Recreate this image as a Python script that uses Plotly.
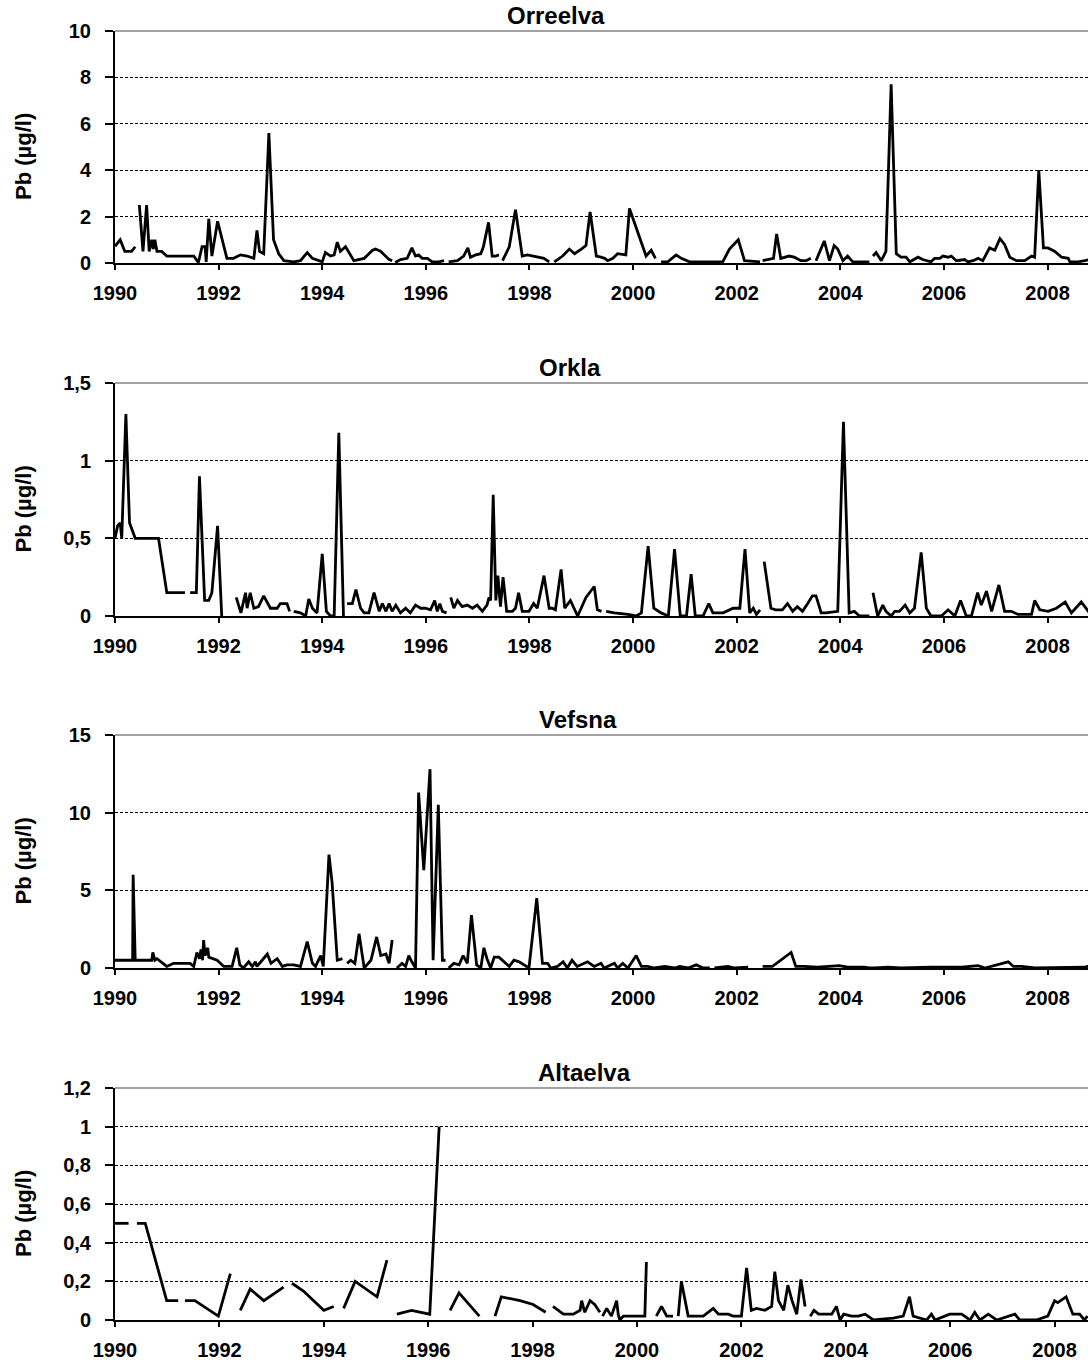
import plotly.graph_objects as go
from plotly.subplots import make_subplots

# Pb (ug/l) in four Norwegian rivers, 1990-2008 (None = gap in the series)
rivers = ["Orreelva", "Orkla", "Vefsna", "Altaelva"]

orreelva_year = [
    1990.00, 1990.10, 1990.19, 1990.32, 1990.39, None,
    1990.47, 1990.54, 1990.61, 1990.66, 1990.71, 1990.74, 1990.77, 1990.81, 1990.90, 1991.00,
    1991.26, 1991.52, 1991.61, 1991.68, 1991.74, 1991.76, 1991.81, 1991.87, 1991.98, 1992.16,
    1992.29, 1992.42, 1992.55, 1992.68, 1992.71, 1992.74, 1992.79, 1992.87, 1992.97, 1993.06,
    1993.16, 1993.26, 1993.45, 1993.58, 1993.71, 1993.81, 1994.00, 1994.06, 1994.16, 1994.23,
    1994.29, 1994.35, 1994.45, 1994.61, 1994.81, 1994.97, 1995.03, 1995.13, 1995.29, 1995.35, None,
    1995.41, 1995.51, 1995.64, 1995.73, 1995.80, 1995.86, 1995.93, 1996.03, 1996.12, 1996.25, 1996.35, None,
    1996.44, 1996.61, 1996.73, 1996.81, 1996.86, 1996.96, 1997.06, 1997.11, 1997.21, 1997.28, 1997.35, 1997.41, None,
    1997.48, 1997.61, 1997.73, 1997.86, 1997.96, 1998.09, 1998.22, 1998.28, 1998.38, None,
    1998.48, 1998.64, 1998.77, 1998.87, 1999.00, 1999.09, 1999.17, 1999.29, 1999.38, 1999.45,
    1999.51, 1999.61, 1999.70, 1999.86, 1999.93, 2000.09, 2000.25, 2000.35, 2000.43, None,
    2000.54, 2000.67, 2000.83, 2000.93, 2001.09, 2001.32, 2001.57, 2001.73, 2001.86, 2002.03, 2002.15, 2002.35, 2002.45, None,
    2002.50, 2002.66, 2002.71, 2002.77, 2002.85, 2003.01, 2003.11, 2003.24, 2003.34, 2003.43, None,
    2003.53, 2003.69, 2003.79, 2003.88, 2003.95, 2004.05, 2004.14, 2004.24, 2004.40, 2004.56, None,
    2004.63, 2004.69, 2004.79, 2004.88, 2004.98, 2005.08, 2005.17, 2005.27, 2005.34, 2005.50,
    2005.59, 2005.75, 2005.82, 2005.92, 2005.98, 2006.08, 2006.14, 2006.24, 2006.40, 2006.46,
    2006.56, 2006.66, 2006.75, 2006.88, 2006.98, 2007.08, 2007.17, 2007.27, 2007.40, 2007.56,
    2007.69, 2007.75, 2007.83, 2007.92, 2008.01, 2008.14, 2008.27, 2008.40, 2008.43, 2008.59, 2008.72, 2008.81,
]
orreelva_pb = [
    0.72, 1.0, 0.5, 0.5, 0.7, None,
    2.5, 0.5, 2.5, 0.5, 1.0, 0.6, 1.0, 0.5, 0.5, 0.3,
    0.3, 0.3, 0.02, 0.7, 0.7, 0.05, 1.9, 0.3, 1.8, 0.2,
    0.2, 0.35, 0.3, 0.2, 0.8, 1.4, 0.5, 0.4, 5.6, 1.0,
    0.4, 0.1, 0.05, 0.1, 0.45, 0.2, 0.05, 0.45, 0.3, 0.35,
    0.9, 0.5, 0.7, 0.1, 0.2, 0.55, 0.6, 0.5, 0.15, 0.1, None,
    0.02, 0.15, 0.2, 0.65, 0.3, 0.35, 0.2, 0.2, 0.05, 0.05, 0.1, None,
    0.05, 0.1, 0.3, 0.65, 0.25, 0.35, 0.4, 0.7, 1.75, 0.3, 0.3, 0.35, None,
    0.1, 0.7, 2.3, 0.3, 0.35, 0.3, 0.25, 0.2, 0.05, None,
    0.05, 0.3, 0.6, 0.4, 0.6, 0.75, 2.2, 0.3, 0.25, 0.2,
    0.1, 0.2, 0.4, 0.35, 2.35, 1.3, 0.3, 0.55, 0.2, None,
    0.05, 0.05, 0.35, 0.2, 0.05, 0.05, 0.05, 0.05, 0.6, 1.0, 0.1, 0.05, 0.05, None,
    0.1, 0.2, 0.2, 1.25, 0.2, 0.3, 0.25, 0.1, 0.1, 0.2, None,
    0.1, 0.95, 0.1, 0.75, 0.6, 0.1, 0.3, 0.05, 0.05, 0.05, None,
    0.3, 0.45, 0.1, 0.5, 7.7, 0.4, 0.25, 0.25, 0.05, 0.25,
    0.15, 0.05, 0.2, 0.2, 0.3, 0.25, 0.3, 0.1, 0.15, 0.05,
    0.1, 0.2, 0.1, 0.65, 0.55, 1.05, 0.8, 0.25, 0.1, 0.1,
    0.3, 0.25, 4.0, 0.65, 0.65, 0.5, 0.25, 0.2, 0.05, 0.05, 0.1, 0.15,
]

orkla_year = [
    1990.00, 1990.05, 1990.10, 1990.13, 1990.21, 1990.28, 1990.39, 1990.84, 1991.00, 1991.35, None,
    1991.45, 1991.57, 1991.63, 1991.73, 1991.81, 1991.87, 1991.98, 1992.06, None,
    1992.34, 1992.43, 1992.52, 1992.55, 1992.61, 1992.68, 1992.77, 1992.87, 1993.00, 1993.13, 1993.19, 1993.32, 1993.37, None,
    1993.45, 1993.58, 1993.68, 1993.74, 1993.81, 1993.90, 1994.00, 1994.08, 1994.16, 1994.23, 1994.32, 1994.41, None,
    1994.48, 1994.58, 1994.65, 1994.74, 1994.81, 1994.90, 1995.00, 1995.10, 1995.16, 1995.23,
    1995.29, 1995.35, 1995.42, 1995.51, 1995.61, 1995.70, 1995.80, 1995.90, 1995.99, 1996.09,
    1996.17, 1996.22, 1996.27, 1996.32, 1996.40, None,
    1996.48, 1996.54, 1996.61, 1996.70, 1996.80, 1996.90, 1996.99, 1997.09, 1997.18, 1997.22,
    1997.25, 1997.30, 1997.35, 1997.39, 1997.44, 1997.49, 1997.56, 1997.67, 1997.73, 1997.79,
    1997.86, 1997.99, 1998.08, 1998.15, 1998.28, 1998.38, 1998.44, 1998.50, 1998.61, 1998.68,
    1998.79, 1998.93, 1999.09, 1999.25, 1999.31, 1999.39, None,
    1999.48, 1999.64, 1999.90, 2000.06, 2000.16, 2000.29, 2000.40, 2000.54, 2000.68, 2000.80,
    2000.91, 2001.03, 2001.12, 2001.20, 2001.35, 2001.46, 2001.54, 2001.74, 2001.93, 2002.06,
    2002.16, 2002.25, 2002.32, 2002.38, 2002.45, None,
    2002.53, 2002.66, 2002.75, 2002.88, 2002.98, 2003.08, 2003.17, 2003.27, 2003.37, 2003.46,
    2003.53, 2003.63, 2003.72, 2003.95, 2004.06, 2004.17, 2004.27, 2004.37, 2004.46, 2004.56, None,
    2004.63, 2004.72, 2004.82, 2004.88, 2004.98, 2005.05, 2005.14, 2005.25, 2005.34, 2005.43,
    2005.56, 2005.66, 2005.75, 2005.95, 2006.08, 2006.21, 2006.32, 2006.43, 2006.53, 2006.65,
    2006.72, 2006.82, 2006.92, 2007.06, 2007.17, 2007.30, 2007.43, 2007.69, 2007.75, 2007.85,
    2008.01, 2008.17, 2008.34, 2008.46, 2008.65, 2008.81,
]
orkla_pb = [
    0.5, 0.58, 0.6, 0.5, 1.3, 0.6, 0.5, 0.5, 0.15, 0.15, None,
    0.15, 0.15, 0.9, 0.1, 0.1, 0.15, 0.58, 0.0, None,
    0.12, 0.02, 0.15, 0.05, 0.15, 0.05, 0.06, 0.13, 0.05, 0.05, 0.08, 0.08, 0.03, None,
    0.03, 0.02, 0.0, 0.11, 0.05, 0.02, 0.4, 0.03, 0.0, 0.0, 1.18, 0.0, None,
    0.08, 0.08, 0.17, 0.05, 0.02, 0.02, 0.15, 0.03, 0.08, 0.03,
    0.08, 0.03, 0.07, 0.02, 0.05, 0.02, 0.07, 0.05, 0.05, 0.04,
    0.1, 0.03, 0.08, 0.03, 0.02, None,
    0.12, 0.05, 0.1, 0.06, 0.07, 0.05, 0.07, 0.03, 0.07, 0.12,
    0.1, 0.78, 0.1, 0.26, 0.06, 0.25, 0.03, 0.03, 0.05, 0.15,
    0.03, 0.03, 0.08, 0.05, 0.26, 0.05, 0.05, 0.04, 0.3, 0.05,
    0.1, 0.0, 0.12, 0.19, 0.04, 0.03, None,
    0.03, 0.02, 0.01, 0.0, 0.02, 0.45, 0.05, 0.02, 0.0, 0.43,
    0.0, 0.0, 0.27, 0.0, 0.0, 0.08, 0.02, 0.02, 0.05, 0.05,
    0.43, 0.02, 0.05, 0.01, 0.04, None,
    0.35, 0.05, 0.04, 0.04, 0.08, 0.03, 0.06, 0.03, 0.08, 0.13,
    0.13, 0.02, 0.02, 0.03, 1.25, 0.02, 0.03, 0.0, 0.0, 0.0, None,
    0.15, 0.0, 0.07, 0.03, 0.0, 0.03, 0.03, 0.07, 0.02, 0.05,
    0.41, 0.05, 0.0, 0.0, 0.04, 0.0, 0.1, 0.0, 0.0, 0.15,
    0.07, 0.16, 0.03, 0.2, 0.03, 0.03, 0.01, 0.01, 0.1, 0.04,
    0.03, 0.05, 0.09, 0.02, 0.09, 0.02,
]

vefsna_year = [
    1990.00, 1990.34, 1990.35, 1990.39, 1990.71, 1990.73, 1990.77, 1990.81, 1991.00, 1991.13,
    1991.45, 1991.52, 1991.58, 1991.63, 1991.66, 1991.69, 1991.71, 1991.74, 1991.79, 1991.81,
    1991.97, 1992.10, 1992.26, 1992.29, 1992.35, 1992.41, 1992.48, 1992.58, 1992.65, 1992.71,
    1992.74, 1992.84, 1992.94, 1993.01, 1993.13, 1993.23, 1993.32, 1993.45, 1993.58, 1993.71,
    1993.81, 1993.87, 1993.97, 1994.02, 1994.13, 1994.19, 1994.29, 1994.39, None,
    1994.48, 1994.55, 1994.63, 1994.71, 1994.81, 1994.94, 1995.05, 1995.13, 1995.23, 1995.29, 1995.35, None,
    1995.44, 1995.54, 1995.61, 1995.67, 1995.73, 1995.80, 1995.86, 1995.96, 1996.08, 1996.14, 1996.24, 1996.32, 1996.38, None,
    1996.44, 1996.54, 1996.64, 1996.72, 1996.80, 1996.88, 1996.98, 1997.06, 1997.12, 1997.18,
    1997.25, 1997.32, 1997.41, 1997.51, 1997.61, 1997.70, 1997.80, 1997.99, 1998.14, 1998.25,
    1998.35, 1998.41, 1998.54, 1998.65, 1998.73, 1998.82, 1998.92, 1999.12, 1999.25, 1999.38,
    1999.44, 1999.64, 1999.70, 1999.80, 1999.90, 2000.06, 2000.16, 2000.28, 2000.41, 2000.61,
    2000.80, 2000.90, 2001.06, 2001.22, 2001.35, 2001.48, None,
    2001.57, 2001.83, 2001.96, 2002.22, None,
    2002.50, 2002.69, 2003.05, 2003.14, 2003.30, 2003.56, 2003.98, 2004.14, 2004.46, 2004.56,
    2004.66, 2004.92, 2005.17, 2005.75, 2006.34, 2006.66, 2006.79, 2007.24, 2007.34, 2007.50,
    2007.75, 2008.27, 2008.72, 2008.81,
]
vefsna_pb = [
    0.5, 0.5, 6.0, 0.5, 0.5, 1.0, 0.5, 0.6, 0.1, 0.3,
    0.3, 0.1, 1.0, 0.6, 1.2, 0.5, 1.8, 0.8, 1.3, 0.7,
    0.5, 0.1, 0.1, 0.5, 1.3, 0.2, 0.0, 0.4, 0.1, 0.4,
    0.1, 0.5, 0.9, 0.3, 0.6, 0.1, 0.2, 0.2, 0.1, 1.7,
    0.3, 0.1, 0.8, 0.1, 7.3, 5.5, 0.5, 0.6, None,
    0.3, 0.5, 0.3, 2.2, 0.0, 0.5, 2.0, 0.8, 0.9, 0.3, 1.8, None,
    0.0, 0.3, 0.1, 0.8, 0.4, 0.0, 11.3, 6.3, 12.8, 0.5, 10.5, 0.5, 0.5, None,
    0.0, 0.3, 0.2, 0.8, 0.3, 3.4, 0.2, 0.0, 1.3, 0.6,
    0.0, 0.7, 0.7, 0.4, 0.1, 0.5, 0.4, 0.0, 4.5, 0.3,
    0.3, 0.0, 0.1, 0.4, 0.0, 0.5, 0.1, 0.4, 0.1, 0.3,
    0.0, 0.3, 0.0, 0.3, 0.0, 0.8, 0.1, 0.1, 0.0, 0.1,
    0.0, 0.1, 0.0, 0.2, 0.0, 0.0, None,
    0.0, 0.1, 0.0, 0.05, None,
    0.1, 0.1, 1.0, 0.1, 0.1, 0.05, 0.15, 0.05, 0.05, 0.0,
    0.0, 0.05, 0.0, 0.05, 0.05, 0.15, 0.0, 0.4, 0.1, 0.1,
    0.0, 0.05, 0.05, 0.15,
]

altaelva_year = [
    1990.00, 1990.26, None,
    1990.42, 1990.58, 1990.99, 1991.21, None,
    1991.34, 1991.53, 1991.98, 1992.21, None,
    1992.40, 1992.59, 1992.85, 1993.23, None,
    1993.39, 1993.61, 1994.00, 1994.19, None,
    1994.38, 1994.60, 1995.02, 1995.21, None,
    1995.40, 1995.68, 1996.03, 1996.21, None,
    1996.42, 1996.59, 1996.98, None,
    1997.28, 1997.40, 1997.76, 1998.01, 1998.25, None,
    1998.39, 1998.59, 1998.78, 1998.91, 1998.94, 1999.00, 1999.10, 1999.19, 1999.29, None,
    1999.34, 1999.42, 1999.51, 1999.61, 1999.64, 1999.67, 1999.74, 2000.15, 2000.18, None,
    2000.37, 2000.47, 2000.57, 2000.69, None,
    2000.79, 2000.85, 2000.98, 2001.27, 2001.46, 2001.56, 2001.75, 2001.84, 2002.00, 2002.10,
    2002.19, 2002.29, 2002.45, 2002.58, 2002.64, 2002.71, 2002.81, 2002.89, 2002.97, 2003.06,
    2003.14, 2003.22, None,
    2003.32, 2003.39, 2003.48, 2003.73, 2003.82, 2003.89, 2003.96, 2004.11, 2004.24, 2004.37,
    2004.53, 2004.91, 2005.10, 2005.22, 2005.29, 2005.55, 2005.64, 2005.71, 2005.99, 2006.22,
    2006.38, 2006.47, 2006.57, 2006.73, 2006.89, 2007.24, 2007.33, 2007.65, 2007.87, 2008.00,
    2008.06, 2008.22, 2008.35, 2008.48, 2008.57, 2008.63,
]
altaelva_pb = [
    0.5, 0.5, None,
    0.5, 0.5, 0.1, 0.1, None,
    0.1, 0.1, 0.02, 0.24, None,
    0.05, 0.16, 0.1, 0.17, None,
    0.19, 0.15, 0.05, 0.07, None,
    0.06, 0.2, 0.12, 0.31, None,
    0.03, 0.05, 0.03, 1.0, None,
    0.05, 0.14, 0.02, None,
    0.02, 0.12, 0.1, 0.08, 0.04, None,
    0.07, 0.03, 0.03, 0.05, 0.1, 0.04, 0.1, 0.08, 0.04, None,
    0.02, 0.06, 0.02, 0.1, 0.03, 0.0, 0.02, 0.02, 0.3, None,
    0.02, 0.07, 0.02, 0.02, None,
    0.02, 0.2, 0.02, 0.02, 0.06, 0.03, 0.03, 0.02, 0.02, 0.27,
    0.05, 0.06, 0.05, 0.07, 0.25, 0.1, 0.05, 0.18, 0.1, 0.03,
    0.21, 0.07, None,
    0.02, 0.05, 0.03, 0.03, 0.07, 0.0, 0.03, 0.02, 0.02, 0.03,
    0.0, 0.01, 0.02, 0.12, 0.02, 0.0, 0.03, 0.0, 0.03, 0.03,
    0.0, 0.04, 0.0, 0.03, 0.0, 0.03, 0.0, 0.0, 0.02, 0.1,
    0.09, 0.12, 0.03, 0.03, 0.0, 0.02,
]

# y axis ticks (Norwegian decimal comma)
y_tickvals = [
    [0, 2, 4, 6, 8, 10],
    [0, 0.5, 1, 1.5],
    [0, 5, 10, 15],
    [0, 0.2, 0.4, 0.6, 0.8, 1, 1.2],
]
y_ticktext = [
    ["0", "2", "4", "6", "8", "10"],
    ["0", "0,5", "1", "1,5"],
    ["0", "5", "10", "15"],
    ["0", "0,2", "0,4", "0,6", "0,8", "1", "1,2"],
]
year_ticks = [1990, 1992, 1994, 1996, 1998, 2000, 2002, 2004, 2006, 2008]

series = [
    (orreelva_year, orreelva_pb),
    (orkla_year, orkla_pb),
    (vefsna_year, vefsna_pb),
    (altaelva_year, altaelva_pb),
]

# layout bits (pixel positions measured off the 1088x1369 page)
H = 1369
L = 115
W = 1088 - L
panel_px = [(31, 263), (383, 616), (735, 968), (1088, 1320)]
x_end = [2008.78, 2008.78, 2008.78, 2008.64]
title_cx = [556, 570, 578, 584]

bold = dict(family="Liberation Sans, Arial, sans-serif", size=20, color="black", weight="bold")
title_font = dict(bold, size=24)
ytitle_font = dict(bold, size=22)

fig = make_subplots(rows=4, cols=1)

for i, (yrs, vals) in enumerate(series):
    n = i + 1
    fig.add_trace(
        go.Scatter(x=yrs, y=vals, mode="lines", connectgaps=False,
                   line=dict(color="black", width=2.8), showlegend=False),
        row=n, col=1,
    )
    top, bot = panel_px[i]
    dom = [1 - bot / H, 1 - top / H]
    fig.update_xaxes(
        range=[1990, x_end[i]], tickvals=year_ticks, ticks="outside", ticklen=5, tickwidth=2,
        tickcolor="black", showline=True, linecolor="black", linewidth=2, showgrid=False,
        zeroline=False, tickfont=bold, ticklabelstandoff=6, automargin=False, row=n, col=1,
    )
    fig.update_yaxes(
        domain=dom, range=[0, y_tickvals[i][-1]], tickvals=y_tickvals[i], ticktext=y_ticktext[i],
        ticks="outside", ticklen=8, tickwidth=2, tickcolor="black", showline=True,
        linecolor="black", linewidth=2, showgrid=True, gridcolor="black", gridwidth=1.3,
        griddash="3px,2px", zeroline=False, tickfont=bold, ticklabelstandoff=10,
        automargin=False, row=n, col=1,
    )
    xa = "x" if n == 1 else "x%d" % n
    ya = "y" if n == 1 else "y%d" % n
    # grey frame line along the top of each panel
    fig.add_shape(type="line", xref=xa + " domain", yref=ya + " domain",
                  x0=0, x1=1, y0=1, y1=1, line=dict(color="#a0a0a0", width=2))
    # panel title
    fig.add_annotation(text=rivers[i], xref="paper", yref="paper",
                       x=(title_cx[i] - L) / W, y=dom[1], xanchor="center", yanchor="bottom",
                       yshift=0, showarrow=False, font=title_font)
    # y axis title
    fig.add_annotation(text="Pb (µg/l)", xref="paper", yref="paper",
                       x=(23 - L) / W, y=(dom[0] + dom[1]) / 2, yshift=-10,
                       xanchor="center", yanchor="middle", textangle=-90,
                       showarrow=False, font=ytitle_font)

fig.update_layout(
    width=1088, height=1369,
    margin=dict(l=L, r=0, t=0, b=0, autoexpand=False),
    paper_bgcolor="white", plot_bgcolor="white",
)

fig.write_html("out.html", config={"displayModeBar": False},
               post_script="document.body.style.margin='0';")
